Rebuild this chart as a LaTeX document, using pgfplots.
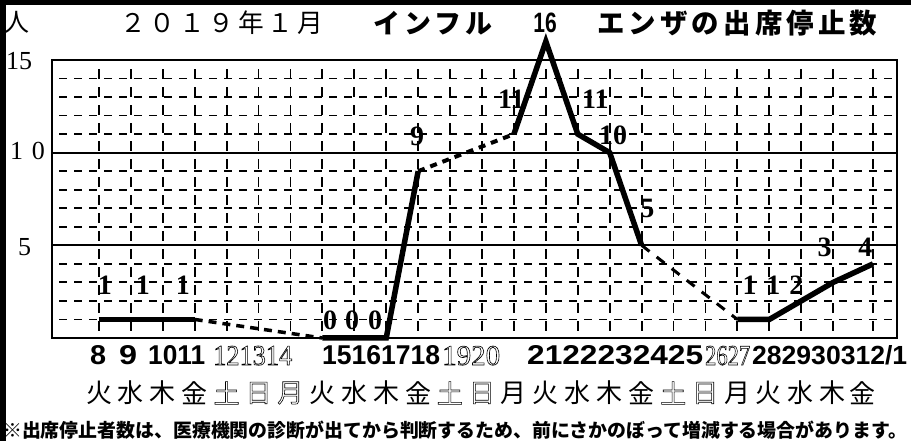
\documentclass[border=0pt]{standalone}
\usepackage{fontspec}
\usepackage{graphicx}
\usepackage{pgfplots}
\pgfplotsset{compat=1.18}
\setmainfont{Liberation Serif}
\setsansfont{Liberation Sans}
\newfontfamily\jp{Noto Sans CJK JP}
\newfontfamily\jpls{Noto Sans CJK JP}[LetterSpace=15]
\newfontfamily\cond{Liberation Sans}[FakeStretch=0.75]
\newcommand\outl[1]{\special{pdf:literal direct 1 Tr 0.6 w}#1\special{pdf:literal direct 0 Tr}}
\newcommand\bn[3]{\node[anchor=base west, inner sep=0pt] at (#1,76) {\resizebox{#2pt}{19pt}{\sffamily\bfseries\fontsize{27}{27}\selectfont #3}};}
\newcommand\on[3]{\node[anchor=base west, inner sep=0pt] at (#1,76) {\resizebox{#2pt}{19pt}{\outl{\rmfamily\fontsize{27}{27}\selectfont #3}}};}
\tikzset{lbl/.style={font=\bfseries\fontsize{28}{28}\selectfont, inner sep=0pt}}
\begin{document}
\begin{tikzpicture}[x=1pt,y=1pt]
\path (0,0) rectangle (911,441);
\begin{axis}[
  at={(52pt,103pt)}, anchor=south west, scale only axis,
  width=845pt, height=278pt,
  xmin=6.53, xmax=33.0, ymin=0, ymax=15,
  xtick={8,...,31,32.25}, xticklabels={},
  ytick={5,10}, yticklabels={},
  minor ytick={1,2,3,4,6,7,8,9,11,12,13,14},
  xmajorgrids, ymajorgrids, yminorgrids,
  major x grid style={black, line width=1.8pt, dash pattern=on 10pt off 8pt, dash phase=-7pt},
  major y grid style={black, line width=1.8pt},
  minor y grid style={black, line width=1.8pt, dash pattern=on 8.3pt off 6.7pt, dash phase=-7pt},
  major tick length=0pt, minor tick length=0pt,
  axis line style={black, line width=2pt},
  clip=false, set layers,
]
\addplot[black, line width=5.5pt] coordinates {(8,1)(9,1)(10,1)(11,1)};
\addplot[black, line width=3.5pt, dash pattern=on 8pt off 6pt] coordinates {(11,1)(15,0)};
\addplot[black, line width=5.5pt] coordinates {(15,0)(16,0)(17,0)(18,9)};
\addplot[black, line width=4pt, dash pattern=on 7pt off 6pt] coordinates {(18,9)(21,11)};
\addplot[black, line width=5.5pt] coordinates {(21,11)(22,16)(23,11)(24,10)(25,5)};
\addplot[black, line width=3pt, dash pattern=on 10pt off 9pt] coordinates {(25,5)(28,1)};
\addplot[black, line width=5.5pt] coordinates {(28,1)(29,1)(30,2)(31,3)(32.25,4)};
\pgfplotsextra{\begin{pgfonlayer}{axis background}
\node[lbl] at (axis cs:8.19,2.86) {1};
\node[lbl] at (axis cs:9.38,2.86) {1};
\node[lbl] at (axis cs:10.63,2.86) {1};
\node[lbl] at (axis cs:15.24,0.97) {0};
\node[lbl] at (axis cs:15.93,0.97) {0};
\node[lbl] at (axis cs:16.65,0.97) {0};
\node[lbl] at (axis cs:17.97,10.9) {9};
\node[lbl] at (axis cs:20.92,12.9) {11};
\node[lbl] at (axis cs:23.55,12.9) {11};
\node[lbl] at (axis cs:24.11,10.95) {10};
\node[lbl] at (axis cs:25.18,7.0) {5};
\node[lbl] at (axis cs:28.38,2.86) {1};
\node[lbl] at (axis cs:29.13,2.86) {1};
\node[lbl] at (axis cs:29.85,2.86) {2};
\node[lbl] at (axis cs:30.73,4.9) {3};
\node[lbl] at (axis cs:32.01,4.9) {4};
\end{pgfonlayer}}
\end{axis}
% frame bars
\fill[black] (0,436) rectangle (911,441);
\fill[black] (0,0) rectangle (6,441);
% y labels
\node[font=\fontsize{26}{26}\selectfont, inner sep=0pt] at (19,380) {15};
\node[font=\fontsize{26}{26}\selectfont, inner sep=0pt] at (27.5,290) {1\,\,0};
\node[font=\fontsize{26}{26}\selectfont, inner sep=0pt] at (24.5,194) {5};
% title
\node[font=\jp\fontsize{25}{25}\selectfont, inner sep=0pt] at (17,419) {人};
\node[anchor=west, inner sep=0pt] at (120,418) {\resizebox{203pt}{!}{\jpls\fontsize{26}{26}\selectfont ２０１９年１月}};
\node[anchor=west, inner sep=0pt] at (373,418) {\resizebox{119pt}{!}{\jpls\bfseries\fontsize{26}{26}\selectfont インフル}};
\node[anchor=west, inner sep=0pt] at (597,418) {\resizebox{280pt}{!}{\jpls\bfseries\fontsize{26}{26}\selectfont エンザの出席停止数}};
\node[inner sep=0pt, font=\cond\bfseries\fontsize{28}{28}\selectfont] at (545,418) {16};
% date row
\bn{90}{16}{8}
\bn{119}{18}{9}
\bn{148}{57}{1011}
\on{213}{79}{121314}
\bn{322}{118}{15161718}
\on{442}{58}{1920}
\bn{527}{176}{2122232425}
\on{705}{45}{2627}
\bn{752}{155}{282930312/1}
% weekday row
\foreach \d/\s [count=\i from 0] in {火/0,水/0,木/0,金/0,土/1,日/1,月/1,火/0,水/0,木/0,金/0,土/1,日/1,月/0,火/0,水/0,木/0,金/0,土/1,日/1,月/0,火/0,水/0,木/0} {
  \ifnum\s=1
    \node[inner sep=0pt, font=\jp\fontsize{26}{26}\selectfont] at (99+31.9*\i,48) {\outl{\d}};
  \else
    \node[inner sep=0pt, font=\jp\fontsize{26}{26}\selectfont] at (99+31.9*\i,48) {\d};
  \fi
}
\node[inner sep=0pt, font=\jp\fontsize{26}{26}\selectfont] at (862,48) {金};
% note
\node[anchor=west, inner sep=0pt] at (3,11) {\resizebox{904pt}{!}{\jp\bfseries\fontsize{18}{18}\selectfont ※出席停止者数は、医療機関の診断が出てから判断するため、前にさかのぼって増減する場合があります。}};
\end{tikzpicture}
\end{document}
